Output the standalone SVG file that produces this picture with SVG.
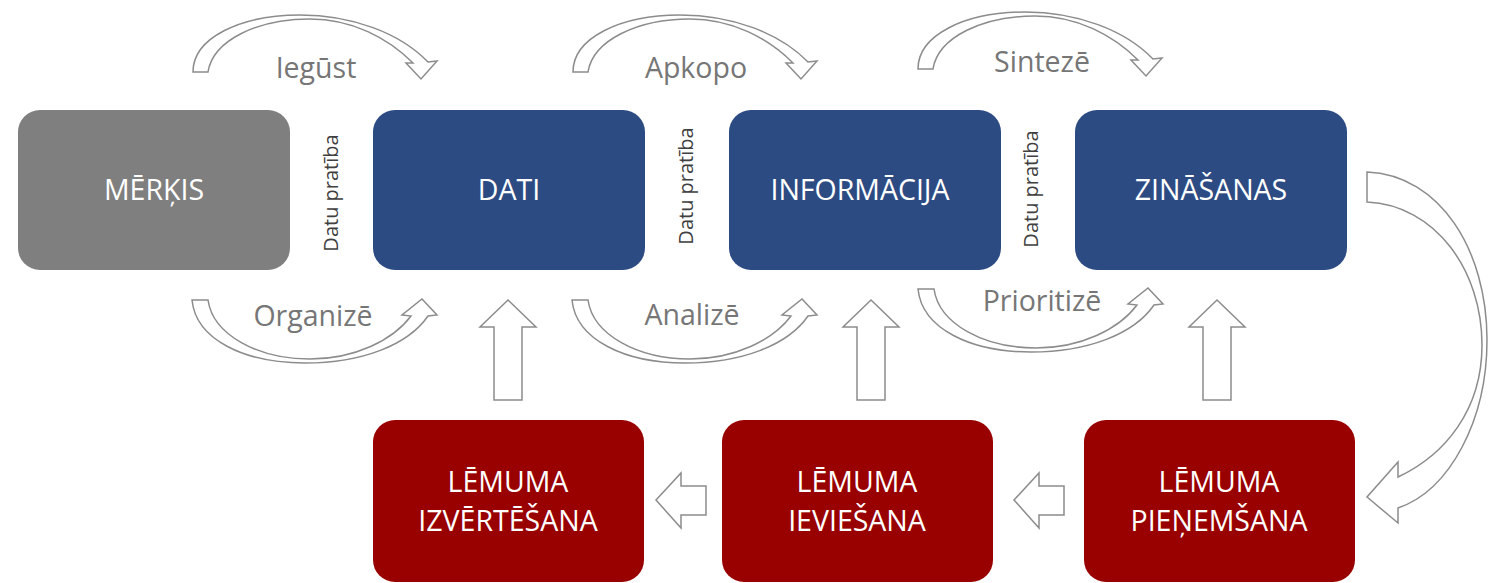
<svg xmlns="http://www.w3.org/2000/svg" width="1488" height="583" viewBox="0 0 1488 583">
<style>
.box{stroke:none}
.gray{fill:#7f7f7f}
.blue{fill:#2d4b83}
.red{fill:#990000}
.bt{font-family:"Open Sans","Liberation Sans",sans-serif;font-size:28.5px;fill:#ffffff;text-anchor:middle}
.lbl{font-family:"Open Sans","Liberation Sans",sans-serif;font-size:28.5px;fill:#767676;text-anchor:middle}
.vt{font-family:"Open Sans","Liberation Sans",sans-serif;font-size:20px;fill:#404040;text-anchor:middle}
.arr{fill:#ffffff;stroke:#8c8c8c;stroke-width:1.5;stroke-linejoin:miter}
</style>
<defs>
<path id="topArc" d="M193,72 C193,38 240,15 300,15 C352,15 400,33 428,62 L437,61 L421,79 L406,63 L413,63 C388,38 352,19 310,19 C258,19 213,40 208,72 Z"/>
<path id="botArc" d="M192,300 L208,300 C213,335 258,359 310,359 C355,359 393,340 411,316 L402,315 L422,299 L437,315 L428,316 C408,345 362,363 305,363 C245,363 196,340 192,300 Z"/>
<path id="upArr" d="M508,300 L536,327 L522,327 L522,400 L494,400 L494,327 L480,327 Z"/>
<path id="leftArr" d="M656,500 L681,473 L681,486 L706,486 L706,515 L681,515 L681,528 Z"/>
</defs>

<g id="connectors">
<use href="#topArc" class="arr"/>
<use href="#topArc" class="arr" transform="translate(380,0)"/>
<use href="#topArc" class="arr" transform="translate(725,-3)"/>
<use href="#botArc" class="arr"/>
<use href="#botArc" class="arr" transform="translate(380,0)"/>
<use href="#botArc" class="arr" transform="translate(726,-11)"/>
<use href="#upArr" class="arr"/>
<use href="#upArr" class="arr" transform="translate(363,0)"/>
<use href="#upArr" class="arr" transform="translate(709,0)"/>
<use href="#leftArr" class="arr"/>
<use href="#leftArr" class="arr" transform="translate(358,0)"/>
<path class="arr" d="M1367,172 C1440,175 1487,250 1487,340 C1487,420 1450,490 1398,508 L1398,523 L1367,497 L1398,462 L1398,477 C1445,455 1482,410 1482,345 C1482,270 1435,205 1367,202 Z"/>
<text class="lbl" x="316" y="78">Iegūst</text>
<text class="lbl" x="696" y="78">Apkopo</text>
<text class="lbl" x="1042" y="72">Sintezē</text>
<text class="lbl" x="313" y="326">Organizē</text>
<text class="lbl" x="692" y="325">Analizē</text>
<text class="lbl" x="1042" y="311">Prioritizē</text>
<text class="vt" transform="translate(338,193) rotate(-90)">Datu pratība</text>
<text class="vt" transform="translate(693,186) rotate(-90)">Datu pratība</text>
<text class="vt" transform="translate(1038,189) rotate(-90)">Datu pratība</text>
</g>

<g id="merkis">
<rect class="box gray" x="18" y="110" width="272" height="160" rx="22"/>
<text class="bt" x="154" y="200">MĒRĶIS</text>
</g>
<g id="dati">
<rect class="box blue" x="373" y="110" width="272" height="160" rx="22"/>
<text class="bt" x="509" y="200">DATI</text>
</g>
<g id="informacija">
<rect class="box blue" x="729" y="110" width="272" height="160" rx="22"/>
<text class="bt" x="860" y="200">INFORMĀCIJA</text>
</g>
<g id="zinasanas">
<rect class="box blue" x="1075" y="110" width="272" height="160" rx="22"/>
<text class="bt" x="1211" y="200">ZINĀŠANAS</text>
</g>
<g id="izvertesana">
<rect class="box red" x="373" y="420" width="271" height="162" rx="22"/>
<text class="bt" x="508" y="492">LĒMUMA</text>
<text class="bt" x="508" y="531">IZVĒRTĒŠANA</text>
</g>
<g id="ieviesana">
<rect class="box red" x="722" y="420" width="271" height="162" rx="22"/>
<text class="bt" x="857" y="492">LĒMUMA</text>
<text class="bt" x="857" y="531">IEVIEŠANA</text>
</g>
<g id="pienemsana">
<rect class="box red" x="1084" y="420" width="271" height="162" rx="22"/>
<text class="bt" x="1219" y="492">LĒMUMA</text>
<text class="bt" x="1219" y="531">PIEŅEMŠANA</text>
</g>
</svg>
